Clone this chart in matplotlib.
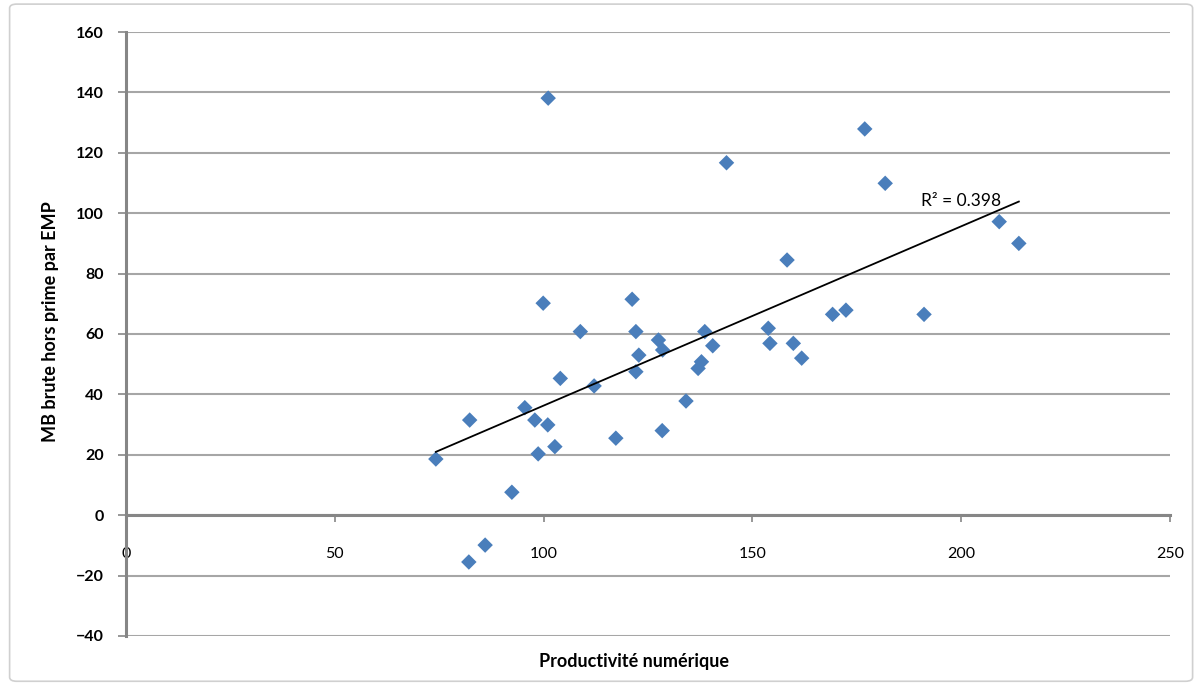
import matplotlib
matplotlib.use("Agg")
from matplotlib import pyplot as plt
from matplotlib.patches import FancyBboxPatch
import numpy as np

# productivité numérique (x) vs MB brute hors prime par EMP (y)
prod = [74.2, 82.3, 82.1, 86.0, 92.4, 95.5, 97.9, 98.7, 99.9, 101.0,
        101.1, 102.7, 104.0, 108.8, 112.1, 117.3, 121.2, 122.1, 122.8, 122.1,
        127.5, 128.5, 128.4, 134.1, 137.0, 137.8, 138.6, 140.5, 143.8, 153.8,
        154.2, 158.3, 159.8, 161.8, 169.2, 172.4, 176.9, 181.8, 191.1, 209.1,
        213.8]
mb = [18.6, 31.5, -15.5, -9.9, 7.6, 35.6, 31.5, 20.3, 70.2, 29.9,
      138.1, 22.7, 45.3, 60.8, 42.8, 25.5, 71.5, 60.8, 53.0, 47.5,
      58.0, 54.7, 28.0, 37.8, 48.6, 50.8, 60.8, 56.1, 116.7, 61.9,
      56.9, 84.5, 56.9, 52.0, 66.5, 67.9, 127.9, 109.9, 66.5, 97.2,
      90.0]
r2_label = "R² = 0.398"

FONT = ["Lato", "DejaVu Sans"]
plt.rcParams['font.family'] = FONT

fig = plt.figure(figsize=(12.01, 6.84), dpi=100)
ax = fig.add_axes([0.1049, 0.0702, 0.8693, 0.8830])

# chart border
fig.patches.append(FancyBboxPatch((0.008, 0.004), 0.985, 0.99, boxstyle="round,pad=0,rounding_size=0.006",
                                  transform=fig.transFigure, fill=False, edgecolor="#d0d0d0", linewidth=1.2))

ax.set_xlim(0, 250)
ax.set_ylim(-40, 160)
ax.set_yticks(np.arange(-40, 161, 20))
ax.set_xticks(np.arange(0, 251, 50))
ax.grid(axis='y', color="#a6a6a6", linewidth=1.5)
ax.set_axisbelow(True)

for s in ['top', 'right']:
    ax.spines[s].set_visible(False)
ax.spines['bottom'].set_position(('data', 0))
ax.spines['bottom'].set_color("#868686")
ax.spines['bottom'].set_linewidth(2.2)
ax.spines['left'].set_color("#868686")
ax.spines['left'].set_linewidth(2.2)

ax.tick_params(axis='y', direction='out', length=6, width=1.2, color="#868686",
               labelsize=11.5, pad=10)
ax.tick_params(axis='x', direction='out', length=5, width=1.2, color="#868686",
               labelsize=11.5, pad=18)
for lab in ax.get_yticklabels():
    lab.set_fontweight('bold')

ax.scatter(prod, mb, marker='D', s=62, color="#4a7ebb", edgecolors='none', zorder=3)

# linear trend line
a, b = np.polyfit(prod, mb, 1)
xs = np.array([min(prod), max(prod)])
ax.plot(xs, a * xs + b, color="black", linewidth=1.3, zorder=4)
ax.text(xs[1] - 23.5, a * xs[1] + b - 2.5, r2_label, fontsize=12.5, ha='left', va='bottom')

ax.set_xlabel("Productivité numérique", fontsize=13, fontweight='bold')
ax.xaxis.set_label_coords(0.487, -0.028)
ax.set_ylabel("MB brute hors prime par EMP", fontsize=13, fontweight='bold')
ax.yaxis.set_label_coords(-0.064, 0.52)

fig.savefig("out.png", dpi=100)
